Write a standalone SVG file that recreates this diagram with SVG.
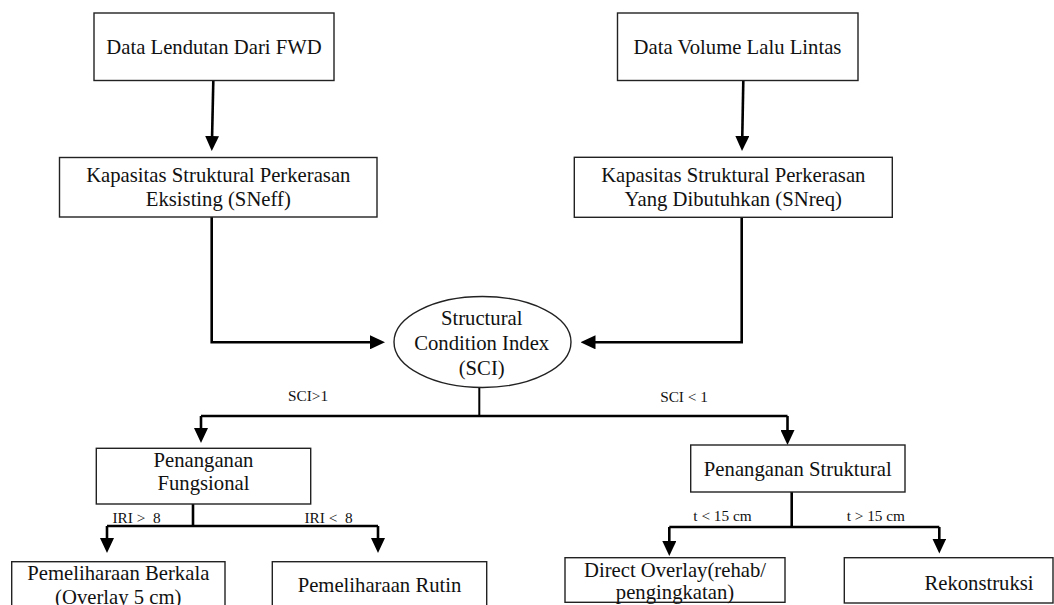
<svg xmlns="http://www.w3.org/2000/svg" width="1054" height="605" viewBox="0 0 1054 605">
<style>
.box{fill:#fff;stroke:#222;stroke-width:1.4}
.t{font-family:"Liberation Serif","Times New Roman",serif;font-size:20.7px;fill:#111;text-anchor:middle}
.s{font-family:"Liberation Serif","Times New Roman",serif;font-size:15.3px;fill:#111;text-anchor:middle}
.c{fill:none;stroke:#000;stroke-width:2.6}
.a{marker-end:url(#ah)}
</style>
<defs>
<marker id="ah" viewBox="0 0 15 14" refX="5" refY="7" markerWidth="15" markerHeight="14" markerUnits="userSpaceOnUse" orient="auto">
<path d="M0,0 L15,7 L0,14 z" fill="#000"/>
</marker>
</defs>
<rect width="1054" height="605" fill="#fff"/>
<g id="connectors">
<path class="c a" d="M213.3,81 L212,141"/>
<path class="c a" d="M743.3,81 L742.2,141"/>
<path class="c a" d="M211.7,217 V342.3 H375"/>
<path class="c a" d="M741.7,217 V342.3 H590.5"/>
<path class="c" d="M479.3,388 V416" style="stroke-width:2"/>
<path class="c" d="M201,416 H787.5"/>
<path class="c a" d="M201,416 V433"/>
<path class="c a" d="M787.5,416 V435"/>
<path class="c" d="M193,502 V526"/>
<path class="c" d="M107,526 H378"/>
<path class="c a" d="M107,526 V543"/>
<path class="c a" d="M378,526 V543"/>
<path class="c" d="M791.7,492 V527"/>
<path class="c" d="M669.3,527 H939.3"/>
<path class="c a" d="M669.3,527 V546"/>
<path class="c a" d="M939.3,527 V543.5"/>
</g>
<g id="n-fwd">
<rect class="box" x="94" y="13" width="240" height="67.5"/>
<text class="t" x="214" y="54">Data Lendutan Dari FWD</text>
</g>
<g id="n-volume">
<rect class="box" x="617.5" y="13" width="240.5" height="67.5"/>
<text class="t" x="737.5" y="54">Data Volume Lalu Lintas</text>
</g>
<g id="n-sneff">
<rect class="box" x="59.5" y="157.5" width="317.5" height="59.5"/>
<text class="t" x="218.3" y="181.7">Kapasitas Struktural Perkerasan</text>
<text class="t" x="218.3" y="205.5">Eksisting (SNeff)</text>
</g>
<g id="n-snreq">
<rect class="box" x="574.3" y="157.3" width="318" height="60"/>
<text class="t" x="733.3" y="181.7">Kapasitas Struktural Perkerasan</text>
<text class="t" x="733.3" y="206">Yang Dibutuhkan (SNreq)</text>
</g>
<g id="n-sci">
<ellipse cx="482.5" cy="342" rx="88.5" ry="45.5" fill="#fff" stroke="#222" stroke-width="1.4"/>
<text class="t" x="481.7" y="325">Structural</text>
<text class="t" x="481.7" y="350">Condition Index</text>
<text class="t" x="481.7" y="375">(SCI)</text>
</g>
<g id="labels">
<text class="s" x="308" y="400.5">SCI&gt;1</text>
<text class="s" x="684" y="401.5">SCI &lt; 1</text>
<text class="s" x="136.5" y="523" xml:space="preserve">IRI &gt;  8</text>
<text class="s" x="328.5" y="523" xml:space="preserve">IRI &lt;  8</text>
<text class="s" x="722.5" y="521">t &lt; 15 cm</text>
<text class="s" x="875.8" y="521">t &gt; 15 cm</text>
</g>
<g id="n-fungsional">
<rect class="box" x="96.3" y="448.3" width="214.4" height="55.7"/>
<text class="t" x="203.5" y="467.3">Penanganan</text>
<text class="t" x="203.5" y="490">Fungsional</text>
</g>
<g id="n-struktural">
<rect class="box" x="690.7" y="445" width="214.3" height="47"/>
<text class="t" x="797.8" y="476">Penanganan Struktural</text>
</g>
<g id="n-berkala">
<rect class="box" x="11.7" y="561.7" width="213.3" height="50"/>
<text class="t" x="118.3" y="580">Pemeliharaan Berkala</text>
<text class="t" x="118.3" y="604">(Overlay 5 cm)</text>
</g>
<g id="n-rutin">
<rect class="box" x="272.3" y="561.7" width="214.4" height="50"/>
<text class="t" x="379.5" y="592">Pemeliharaan Rutin</text>
</g>
<g id="n-direct">
<rect class="box" x="565" y="557.7" width="220" height="44.6"/>
<text class="t" x="675" y="577">Direct Overlay(rehab/</text>
<text class="t" x="675" y="599">pengingkatan)</text>
</g>
<g id="n-rekonstruksi">
<rect class="box" x="844.3" y="557.7" width="208.7" height="45.3"/>
<text class="t" x="979" y="590">Rekonstruksi</text>
</g>
</svg>
